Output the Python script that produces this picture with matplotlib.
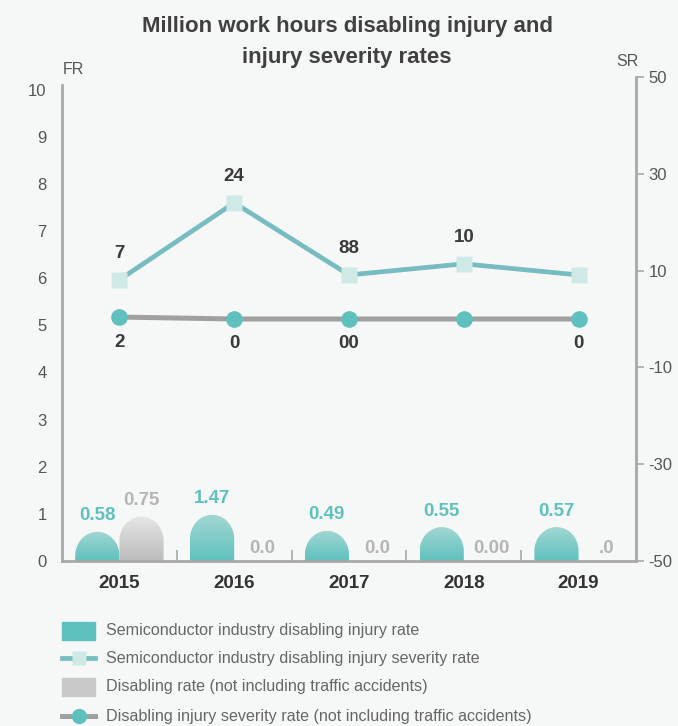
import numpy as np
import matplotlib
matplotlib.use("Agg")
import matplotlib.pyplot as plt
from matplotlib.path import Path
from matplotlib.patches import PathPatch, Rectangle
from matplotlib.lines import Line2D
from matplotlib.colors import LinearSegmentedColormap

plt.rcParams['font.family'] = ['Liberation Sans', 'DejaVu Sans']
plt.rcParams['axes.unicode_minus'] = False

# data
years = ['2015', '2016', '2017', '2018', '2019']
semi_rate = [0.62, 0.98, 0.64, 0.72, 0.72]              # bar heights (FR)
semi_rate_labels = ['0.58', '1.47', '0.49', '0.55', '0.57']
disab_rate = [0.94, 0, 0, 0, 0]                          # bar heights (FR)
disab_rate_labels = ['0.75', '0.0', '0.0', '0.00', '.0']
semi_severity = [8.1, 24.0, 9.1, 11.4, 9.1]              # SR axis
semi_severity_labels = ['7', '24', '88', '10', '']
disab_severity = [0.4, 0, 0, 0, 0]                        # SR axis
disab_severity_labels = ['2', '0', '00', '', '0']

BG = '#f6f8f8'
TEAL = '#5fc1bd'
TEAL_TOP = '#a2d7d4'
GRAY_BOT = '#bcbcbc'
GRAY_TOP = '#e6e6e6'
SPINE = '#a8a8a8'
LINE_TEAL = '#77bcc0'
SQUARE = '#cfe9e6'
LINE_GRAY = '#a0a0a0'

W, H = 678, 726
fig = plt.figure(figsize=(W / 100, H / 100), dpi=100, facecolor=BG)


def fx(px):
    return px / W


def fy(py):
    return 1 - py / H


ax = fig.add_axes([fx(62), fy(561), fx(636) - fx(62), fy(85) - fy(561)])
ax.set_facecolor('none')
ax2 = fig.add_axes([fx(62), fy(561), fx(636) - fx(62), fy(77) - fy(561)])
ax2.set_facecolor('none')

x = np.arange(len(years))
bw = 0.385
ylim_top = 10.1
dome = 24 / 47.0  # dome height in data units


def dome_bar(xc, h, c_bot, c_top):
    if h <= 0:
        return
    x0, x1 = xc - bw / 2, xc + bw / 2
    d = min(dome, h)
    t = np.linspace(np.pi, 0, 40)
    verts = [(x0, 0), (x0, h - d)]
    verts += list(zip(xc + bw / 2 * np.cos(t), h - d + d * np.sin(t)))
    verts += [(x1, 0), (x0, 0)]
    codes = [Path.MOVETO] + [Path.LINETO] * (len(verts) - 2) + [Path.CLOSEPOLY]
    patch = PathPatch(Path(verts, codes), facecolor='none', edgecolor='none')
    ax.add_patch(patch)
    cmap = LinearSegmentedColormap.from_list('g', [c_bot, c_top])
    grad = np.linspace(0, 1, 100).reshape(-1, 1)
    im = ax.imshow(grad, cmap=cmap, extent=[x0, x1, 0, h], origin='lower',
                   aspect='auto', zorder=2)
    im.set_clip_path(patch)


for i in range(len(years)):
    dome_bar(x[i] - bw / 2, semi_rate[i], TEAL, TEAL_TOP)
    dome_bar(x[i] + bw / 2, disab_rate[i], GRAY_BOT, GRAY_TOP)
    ax.text(x[i] - bw / 2, semi_rate[i] + 0.34, semi_rate_labels[i],
            ha='center', va='center', fontsize=13.5, fontweight='bold', color=TEAL)
    ax.text(x[i] + bw / 2 + (0.05 if disab_rate[i] == 0 else 0),
            disab_rate[i] + (0.34 if disab_rate[i] > 0 else 0.27),
            disab_rate_labels[i], ha='center', va='center', fontsize=13.5,
            fontweight='bold', color='#b5b5b5')

ax.set_xlim(-0.5, len(years) - 0.5)
ax.set_ylim(0, ylim_top)
ax.set_yticks(range(0, 11))
ax.tick_params(axis='y', length=0, pad=11, labelsize=12, labelcolor='#555555')
ax.set_xticks(x)
ax.set_xticklabels(years, fontsize=13.5, fontweight='bold', color='#333333')
ax.tick_params(axis='x', which='major', length=0, pad=10)
ax.set_xticks(x[:-1] + 0.5, minor=True)
ax.tick_params(axis='x', which='minor', direction='in', length=8, width=1.2, color=SPINE)
for s in ['top', 'right']:
    ax.spines[s].set_visible(False)
for s in ['left', 'bottom']:
    ax.spines[s].set_color(SPINE)
    ax.spines[s].set_linewidth(2)

# right axis lines
ax2.plot(x, semi_severity, color=LINE_TEAL, lw=3.4, marker='s', ms=11.5,
         mfc=SQUARE, mec='none', zorder=3)
ax2.plot(x, disab_severity, color=LINE_GRAY, lw=3.6, marker='o', ms=12,
         mfc=TEAL, mec='none', zorder=3)
for i in range(len(years)):
    ax2.annotate(semi_severity_labels[i], (x[i], semi_severity[i]), xytext=(0, 19),
                 textcoords='offset points', ha='center', va='center',
                 fontsize=13.5, fontweight='bold', color='#3a3a3a')
    ax2.annotate(disab_severity_labels[i], (x[i], disab_severity[i]), xytext=(0, -18),
                 textcoords='offset points', ha='center', va='center',
                 fontsize=13.5, fontweight='bold', color='#3a3a3a')

ax2.set_xlim(-0.5, len(years) - 0.5)
ax2.set_ylim(-50, 50)
ax2.set_yticks(range(-50, 51, 20))
ax2.yaxis.tick_right()
ax2.tick_params(axis='y', direction='out', length=6, width=1.2, color=SPINE,
                pad=3, labelsize=12, labelcolor='#555555')
ax2.set_xticks([])
for s in ['top', 'left', 'bottom']:
    ax2.spines[s].set_visible(False)
ax2.spines['right'].set_color(SPINE)
ax2.spines['right'].set_linewidth(2)

fig.text(fx(73), fy(70), 'FR', ha='center', va='center', fontsize=11.5, color='#555555')
fig.text(fx(627), fy(62), 'SR', ha='center', va='center', fontsize=11.5, color='#555555')

fig.text(fx(347), fy(42), 'Million work hours disabling injury and\ninjury severity rates',
         ha='center', va='center', fontsize=16, fontweight='bold', color='#404040',
         linespacing=1.6)

# legend
legend_labels = ['Semiconductor industry disabling injury rate',
                 'Semiconductor industry disabling injury severity rate',
                 'Disabling rate (not including traffic accidents)',
                 'Disabling injury severity rate (not including traffic accidents)']
rows = [631, 658, 687, 716]
fig.patches.append(Rectangle((fx(62), fy(640)), fx(95) - fx(62), fy(622) - fy(640),
                             transform=fig.transFigure, color=TEAL))
fig.lines.append(Line2D([fx(62), fx(95)], [fy(rows[1])] * 2, transform=fig.transFigure,
                        color=LINE_TEAL, lw=3.4))
fig.lines.append(Line2D([fx(78.5)], [fy(rows[1])], transform=fig.transFigure,
                        marker='s', ms=10, mfc=SQUARE, mec='none', lw=0))
fig.patches.append(Rectangle((fx(62), fy(696)), fx(95) - fx(62), fy(678) - fy(696),
                             transform=fig.transFigure, color='#c8c8c8'))
fig.lines.append(Line2D([fx(62), fx(95)], [fy(rows[3])] * 2, transform=fig.transFigure,
                        color=LINE_GRAY, lw=3.6))
fig.lines.append(Line2D([fx(78.5)], [fy(rows[3])], transform=fig.transFigure,
                        marker='o', ms=11, mfc=TEAL, mec='none', lw=0))
for lab, r in zip(legend_labels, rows):
    fig.text(fx(106), fy(r), lab, ha='left', va='center', fontsize=11.6, color='#666666')

fig.savefig('out.png', dpi=100, facecolor=BG)
